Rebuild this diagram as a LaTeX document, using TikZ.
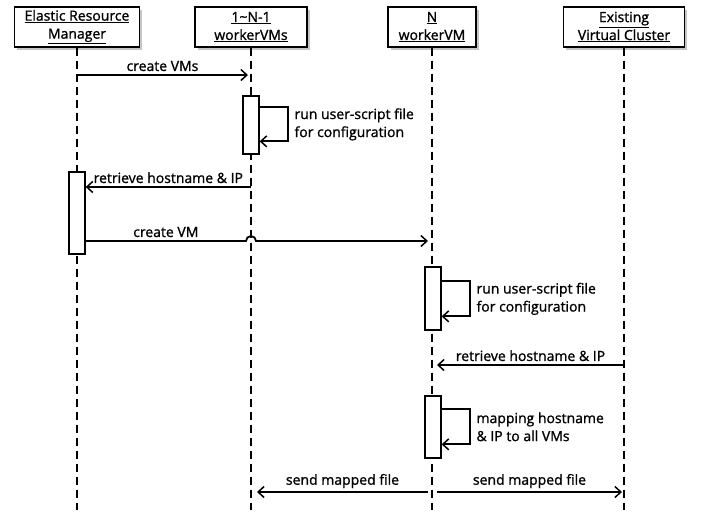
\documentclass[tikz,border=0pt]{standalone}
\usepackage{fontspec}
\setmainfont{Open Sans}[FakeBold=1.2]
\usetikzlibrary{arrows.meta,positioning,shadows}
\tikzset{
  actor/.style={draw, line width=1.3pt, fill=white, align=center,
                font=\fontsize{14}{18}\selectfont, inner sep=1pt, minimum height=40pt,
                drop shadow={shadow xshift=2.5pt, shadow yshift=-2.5pt, fill=black!45}},
  life/.style={draw=black, line width=1.3pt, dash pattern=on 8pt off 5pt},
  act/.style={draw, line width=1.3pt, fill=white, minimum width=16pt, inner sep=0pt},
  msg/.style={-{Straight Barb[length=6pt, width=11pt, line width=1.5pt]}, line width=1.8pt},
  lbl/.style={font=\fontsize{14}{18}\selectfont, inner sep=3pt},
  note/.style={lbl, align=left, right=3pt},
}
\begin{document}
\begin{tikzpicture}[x=1pt, y=-1pt]
  \useasboundingbox (0,0) rectangle (705,515);
  % participants
  \node[actor, minimum width=125pt] (erm) at (77,27) {\underline{Elastic Resource}\\\underline{Manager}};
  \node[actor, minimum width=112pt] (wa) at (251,27) {\underline{1\textasciitilde N-1}\\\underline{workerVMs}};
  \node[actor, minimum width=88pt] (wb) at (432,27) {\underline{N}\\\underline{workerVM}};
  \node[actor, minimum width=121pt] (vc) at (624,27) {\underline{Existing}\\\underline{Virtual Cluster}};
  % lifelines
  \foreach \p in {erm, wa, wb, vc}
    \draw[life] (\p.south) -- (\p |- 0,510);
  % activations
  \node[act, minimum height=58pt] (a1) at (251,125) {};
  \node[act, minimum height=82pt] (a2) at (77,213) {};
  \node[act, minimum height=63pt] (a3) at (433,298.5) {};
  \node[act, minimum height=62pt] (a4) at (433,427) {};
  % messages
  \draw[msg] (erm |- 0,75) -- node[lbl, above] {create VMs} ([xshift=-3pt]wa |- 0,75);
  \draw[msg] ([yshift=-12pt]a1.north east) -- ++(28,0)
    -- ++(0,34) node[note, midway] {run user-script file\\for configuration} -- ++(-28,0);
  \draw[msg] (wa |- 0,187) -- node[lbl, above] {retrieve hostname \& IP} (a2.east |- 0,187);
  \draw[msg] (a2.east |- 0,241) -- node[lbl, above] {create VM} ([xshift=-5pt]wa |- 0,241)
    arc[start angle=180, end angle=0, radius=5pt] -- ([xshift=-4pt]wb |- 0,241);
  \draw[msg] ([yshift=-15pt]a3.north east) -- ++(28,0)
    -- ++(0,35) node[note, midway] {run user-script file\\for configuration} -- ++(-28,0);
  \draw[msg] (vc |- 0,365) -- node[lbl, above] {retrieve hostname \& IP} ([xshift=5pt]wb |- 0,365);
  \draw[msg] ([yshift=-14pt]a4.north east) -- ++(28,0)
    -- ++(0,35) node[note, midway] {mapping hostname\\\& IP to all VMs} -- ++(-28,0);
  \draw[msg] ([xshift=-4pt]wb |- 0,492) -- node[lbl, above] {send mapped file} ([xshift=6pt]wa |- 0,492);
  \draw[msg] ([xshift=5pt]wb |- 0,492) -- node[lbl, above] {send mapped file} ([xshift=-2pt]vc |- 0,492);
\end{tikzpicture}
\end{document}
